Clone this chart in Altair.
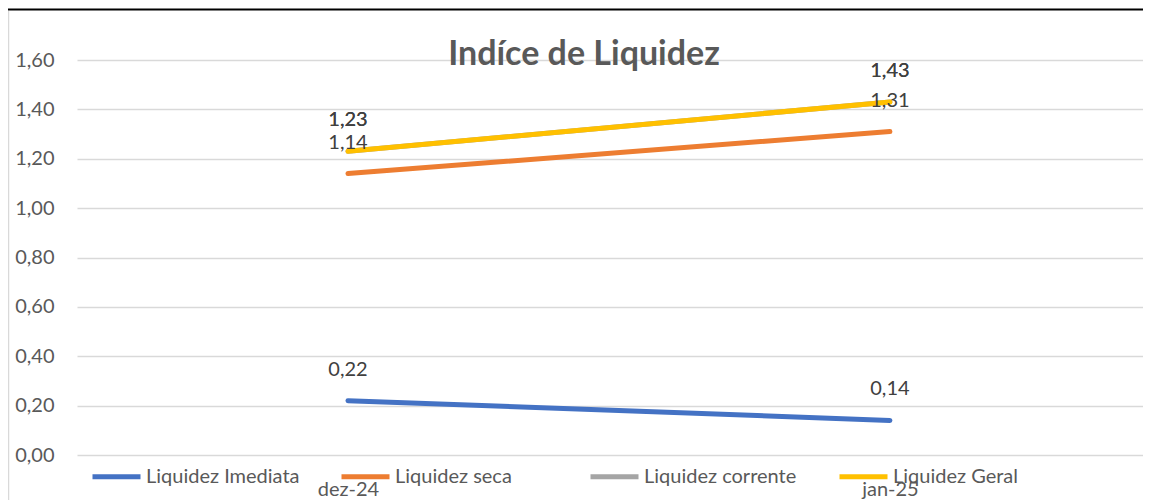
import json
import altair as alt
import pandas as pd

categories = ["dez-24", "jan-25"]
series_names = ["Liquidez Imediata", "Liquidez seca", "Liquidez corrente", "Liquidez Geral"]
imediata = [0.22, 0.14]
seca = [1.14, 1.31]
corrente = [1.23, 1.43]
geral = [1.23, 1.43]
colors = ["#4472C4", "#ED7D31", "#A5A5A5", "#FFC000"]
y_ticks = [0.0, 0.2, 0.4, 0.6, 0.8, 1.0, 1.2, 1.4, 1.6]
title_text = "Indíce de Liquidez"

rows = []
for si, (name, vals) in enumerate(zip(series_names, [imediata, seca, corrente, geral])):
    for ci, (cat, v) in enumerate(zip(categories, vals)):
        rows.append({"idx": ci, "cat": cat, "serie": name, "valor": v, "ordem": si,
                     "rotulo": f"{v:.2f}".replace(".", ",")})
df = pd.DataFrame(rows)

FONT = "Lato"
W, H = 1066, 395

cat_expr = json.dumps(categories).replace('"', "'") + "[datum.value]"
x_enc = alt.X("idx:Q",
              scale=alt.Scale(domain=[-0.5, 1.467], nice=False, zero=False),
              axis=alt.Axis(title=None, domain=False, ticks=False, grid=False,
                            values=list(range(len(categories))), labelExpr=cat_expr,
                            labelFont=FONT, labelFontSize=20, labelColor="#595959",
                            labelPadding=24, labelAngle=0, labelFlush=False))
y_enc = alt.Y("valor:Q", scale=alt.Scale(domain=[0, 1.6], nice=False),
              axis=alt.Axis(title=None, values=y_ticks, domain=False, ticks=False,
                            grid=True, gridColor="#D9D9D9", gridWidth=1.5,
                            labelFont=FONT, labelFontSize=20, labelColor="#595959",
                            labelPadding=23,
                            labelExpr="replace(format(datum.value, '.2f'), '.', ',')"))
color_enc = alt.Color("serie:N", sort=series_names,
                      scale=alt.Scale(domain=series_names, range=colors),
                      legend=alt.Legend(title=None, orient="none", legendX=13, legendY=390,
                                        direction="horizontal", gridAlign="all",
                                        columnPadding=31, symbolType="stroke",
                                        symbolSize=2304, symbolStrokeWidth=5,
                                        labelFont=FONT, labelFontSize=20,
                                        labelColor="#595959", labelOffset=3))

base = alt.Chart(df)
lines = base.mark_line(strokeWidth=5, strokeCap="round").encode(
    x=x_enc, y=y_enc, color=color_enc, order=alt.Order("ordem:Q"))
labels = base.mark_text(dy=-31, baseline="middle", font=FONT, fontSize=20,
                        color="#404040").encode(
    x=x_enc, y=y_enc, text="rotulo:N")

title_layer = alt.Chart(pd.DataFrame({"t": [title_text]})).mark_text(
    font=FONT, fontSize=34, fontWeight="bold", color="#595959",
    align="center", baseline="alphabetic").encode(
    x=alt.value(507), y=alt.value(5), text="t:N")

frame = alt.Chart(pd.DataFrame({"k": [0]}))
top_line = frame.mark_rule(color="#000000", strokeWidth=2).encode(
    x=alt.value(-77), x2=alt.value(W + 10), y=alt.value(-50.5))
left_line = frame.mark_rule(color="#D9D9D9", strokeWidth=1.5).encode(
    x=alt.value(-68.5), y=alt.value(-49), y2=alt.value(H + 60))

chart = alt.layer(top_line, left_line, lines, labels, title_layer).properties(
    width=W, height=H,
    padding={"left": 69, "top": 52, "right": 0, "bottom": 45},
    autosize=alt.AutoSizeParams(type="none"),
    background="white",
).configure_view(stroke=None)

chart.save("out.html", embed_options={"renderer": "svg", "actions": False})
